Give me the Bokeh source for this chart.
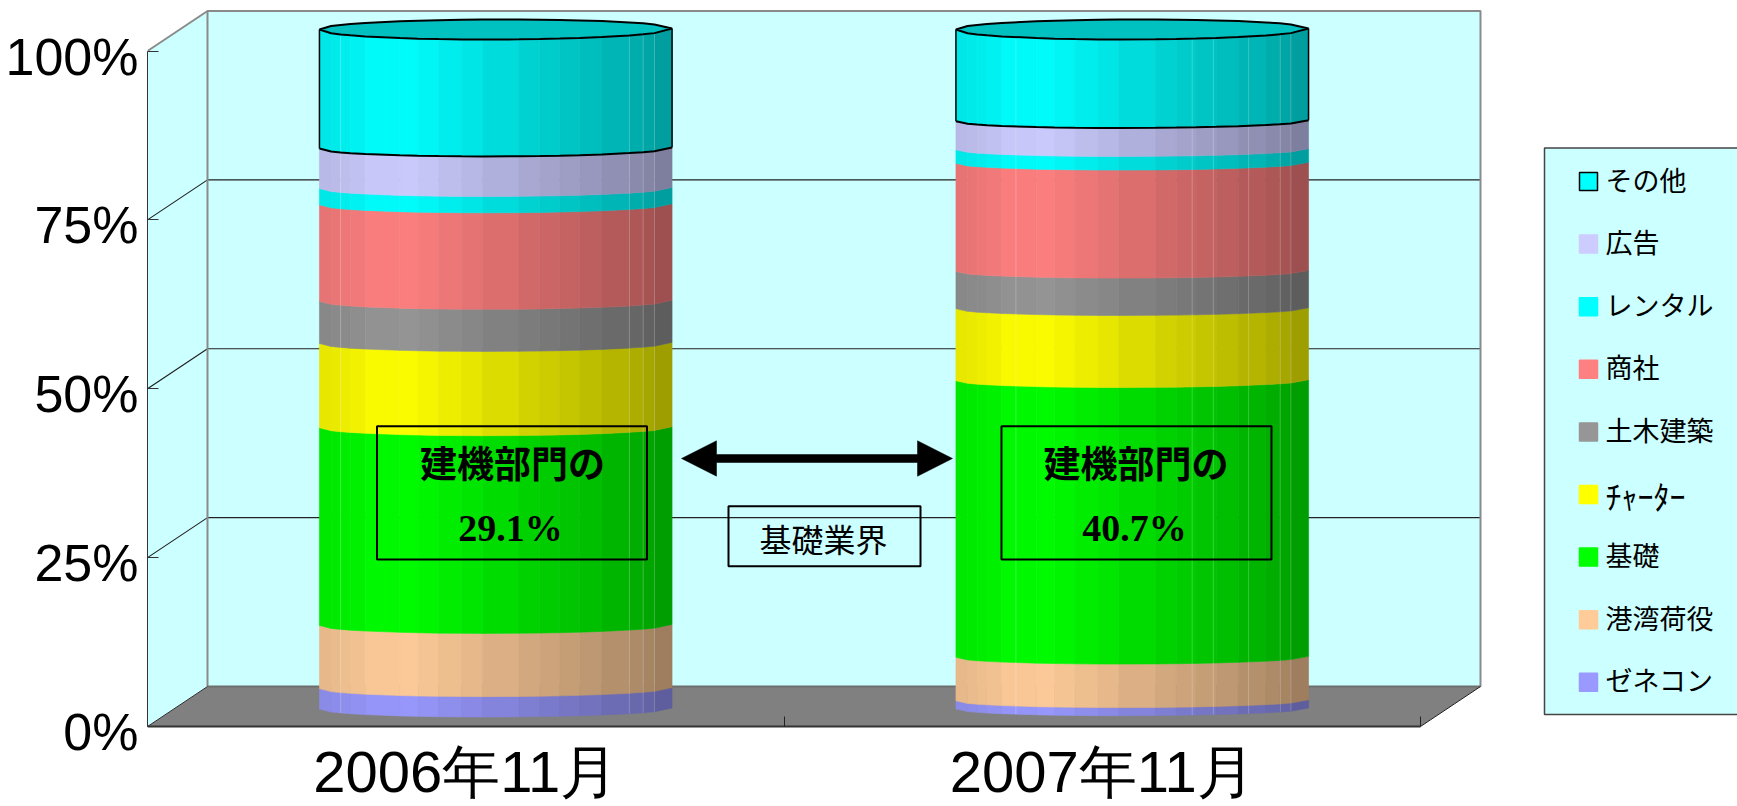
import numpy as np
from bokeh.core.properties import value
from bokeh.embed import file_html
from bokeh.models import ColumnDataSource, FixedTicker, LinearAxis, Range1d
from bokeh.plotting import figure
from bokeh.resources import INLINE

# Share of each sector, bottom of the stack first (percent)
categories = ["2006年11月", "2007年11月"]
sectors = ["ゼネコン", "港湾荷役", "基礎", "ﾁｬｰﾀｰ", "土木建築", "商社", "レンタル", "広告", "その他"]
sector_colors = ["#9999FF", "#FFCC99", "#00FF00", "#FFFF00", "#969696", "#FF8080", "#00FFFF", "#CCCCFF", "#00FFFF"]
share_2006 = [3.0, 9.3, 29.1, 12.4, 6.2, 14.2, 2.4, 5.9, 17.5]
share_2007 = [1.2, 6.4, 40.7, 10.6, 5.5, 15.9, 2.0, 4.2, 13.5]
foundation_labels = ["29.1%", "40.7%"]
y_ticks = [0, 25, 50, 75, 100]

# Pixel geometry of the plot frame and its 3-D box
LEFT, BASE = 147, 726
PX_X, PX_Y = 636.5, 6.755
FRAME_W, FRAME_H = 1590, 806


def dx(px):
    return (px - LEFT) / PX_X


def dy(px):
    return (BASE - px) / PX_Y


Y_START, Y_END = dy(FRAME_H), dy(0)
p = figure(width=1737, height=806, frame_width=FRAME_W, frame_height=FRAME_H,
           x_range=Range1d(0, FRAME_W / PX_X), y_range=Range1d(Y_START, Y_END),
           output_backend="svg", toolbar_location=None,
           min_border_left=LEFT, min_border_right=0, min_border_top=0, min_border_bottom=0,
           background_fill_color="white", border_fill_color="white", outline_line_color=None)
p.grid.visible = False

# Value axis: the tick marks stay on the axis line, while the percent labels sit on a
# second axis whose range is offset a few pixels so they hang just below their ticks
AXIS_FONT = "Liberation Sans"
LABEL_DROP = 5.5 / PX_Y
yax = p.yaxis[0]
yax.ticker = FixedTicker(ticks=[], minor_ticks=y_ticks)
yax.bounds = (0, 100)
yax.major_tick_in, yax.major_tick_out = 0, 0
yax.minor_tick_in, yax.minor_tick_out = 11, 0
yax.minor_tick_line_color = "#333333"
yax.axis_line_color = "#333333"

p.extra_y_ranges["percent_labels"] = Range1d(Y_START + LABEL_DROP, Y_END + LABEL_DROP)
label_axis = LinearAxis(y_range_name="percent_labels", ticker=FixedTicker(ticks=y_ticks),
                        major_label_overrides={t: f"{t}%" for t in y_ticks},
                        major_label_text_font=AXIS_FONT, major_label_text_font_size="52px",
                        major_label_text_color="black", major_label_standoff=9,
                        major_tick_in=0, major_tick_out=0, minor_tick_in=0, minor_tick_out=0,
                        axis_line_color=None, major_tick_line_color=None, minor_tick_line_color=None)
p.add_layout(label_axis, "left")

# Category axis drawn on the floor's front edge
xax = p.xaxis[0]
xax.fixed_location = 0
xax.ticker = FixedTicker(ticks=[0.5, 1.5], minor_ticks=[0, 1, 2])
xax.major_label_overrides = {0.5: categories[0], 1.5: categories[1]}
xax.bounds = (0, 2)
xax.major_label_text_font = AXIS_FONT
xax.major_label_text_font_size = "58px"
xax.major_label_text_color = "black"
xax.major_label_standoff = 6
xax.major_tick_line_color = None
xax.minor_tick_in, xax.minor_tick_out = 10, 0
xax.minor_tick_line_color = "#222222"
xax.axis_line_color = "#333333"
xax.axis_line_width = 2

# Walls and floor of the box
WALL = "#CCFFFF"
DEPTH_X, DEPTH_Y = 60 / PX_X, 40 / PX_Y
top = 100.0
p.patch([0, DEPTH_X, DEPTH_X, 0], [0, DEPTH_Y, top + DEPTH_Y, top], fill_color=WALL, line_color=None)
p.patch([DEPTH_X, 2 + DEPTH_X, 2 + DEPTH_X, DEPTH_X], [DEPTH_Y, DEPTH_Y, top + DEPTH_Y, top + DEPTH_Y],
        fill_color=WALL, line_color=None)
p.patch([0, DEPTH_X, 2 + DEPTH_X, 2], [0, DEPTH_Y, DEPTH_Y, 0], fill_color="#808080", line_color=None)

for t in y_ticks[1:-1]:
    p.line([0, DEPTH_X, 2 + DEPTH_X], [t, t + DEPTH_Y, t + DEPTH_Y], line_color="#222222", line_width=1.2)
p.line([0, DEPTH_X, 2 + DEPTH_X, 2 + DEPTH_X], [top, top + DEPTH_Y, top + DEPTH_Y, DEPTH_Y],
       line_color="#8A8A8A", line_width=2)
p.line([DEPTH_X, DEPTH_X], [top + DEPTH_Y, DEPTH_Y], line_color="#8A8A8A", line_width=2)
p.line([DEPTH_X, 2 + DEPTH_X], [DEPTH_Y, DEPTH_Y], line_color="#6E6E6E", line_width=2)
p.line([2, 2 + DEPTH_X], [0, DEPTH_Y], line_color="#222222", line_width=1)
p.line([0, DEPTH_X], [0, DEPTH_Y], line_color="#333333", line_width=1)

# Faceted cylinders: facet edges across the width, with the light falling from the left
FACETS = np.array([0, .033, .06, .088, .13, .228, .28, .338, .403, .462, .566,
                   .625, .681, .738, .801, .879, .918, .95, 1.0])
SHADE_AT = [0, .228, .5, .7, .9, 1.0]
SHADE = [.90, 1.0, .87, .78, .68, .60]
CYL_HALF_W = 176.3 / PX_X
CYL_BASE = (BASE - 708.5) / PX_Y
CYL_SCALE = 6.795 / PX_Y
LID_RIM = 10.5 / PX_Y
TILT = 1.0 / PX_Y


def shaded(color, f):
    k = np.interp(f, SHADE_AT, SHADE)
    r, g, b = (int(color[i:i + 2], 16) for i in (1, 3, 5))
    return "#%02X%02X%02X" % (int(r * k), int(g * k), int(b * k))


def rim(f, level, depth, sign=-1):
    """Height of a rim at width fraction f: front curve for sign -1, back curve for sign +1."""
    t = 2 * np.asarray(f) - 1
    return CYL_BASE + CYL_SCALE * level + sign * depth * np.sqrt(np.clip(1 - t * t, 0, 1)) + TILT * np.asarray(f)


def draw_cylinder(center, shares, seams, band_rim_px):
    band_rim = band_rim_px / PX_Y
    x0 = center - CYL_HALF_W
    width = 2 * CYL_HALF_W
    xs = x0 + FACETS * width
    levels = np.concatenate([[0], np.cumsum(shares)])
    levels[-1] = 100.0
    xp, yp, colors = [], [], []
    for lo, hi, col in zip(levels[:-1], levels[1:], sector_colors):
        hi_rim = LID_RIM if hi == 100.0 else band_rim
        for j in range(len(FACETS) - 1):
            f0, f1 = FACETS[j], FACETS[j + 1]
            xp.append([xs[j], xs[j + 1], xs[j + 1], xs[j]])
            yp.append([rim(f0, lo, band_rim), rim(f1, lo, band_rim), rim(f1, hi, hi_rim), rim(f0, hi, hi_rim)])
            colors.append(shaded(col, (f0 + f1) / 2))
    p.patches(xp, yp, fill_color=colors, line_color=colors, line_width=0.6)

    # faint seams between some facets
    for s in seams:
        p.line([x0 + s * width] * 2, [rim(s, levels[0], band_rim), rim(s, 100, LID_RIM)], line_color="white",
               line_alpha=0.22, line_width=1)

    # outlined top section and lid
    lower = levels[-2]
    p.line(list(xs), list(rim(FACETS, lower, band_rim)), line_color="black", line_width=2)
    p.line([xs[0], xs[0]], [rim(0, lower, band_rim), rim(0, 100, LID_RIM)], line_color="black", line_width=1.5)
    p.line([xs[-1], xs[-1]], [rim(1, lower, band_rim), rim(1, 100, LID_RIM)], line_color="black", line_width=1.5)
    lid_x = list(xs) + list(xs[::-1])
    lid_y = list(rim(FACETS, 100, LID_RIM)) + list(rim(FACETS[::-1], 100, 9.5 / PX_Y, sign=1))
    p.patch(lid_x, lid_y, fill_color="#00C0C0", line_color="black", line_width=2)


CENTERS = [0.5 + DEPTH_X / 2, 1.5 + DEPTH_X / 2]
draw_cylinder(CENTERS[0], share_2006, [.06, .879, .918, .95], 8.5)
draw_cylinder(CENTERS[1], share_2007, [.17, .67, .73, .83, .92, .95], 7.2)

# Callout boxes over the foundation sections
CJK = "Noto Sans CJK JP"
box_edges = [(376.5, 646.5), (1001, 1271)]
head_centers = [512, 1135.5]
value_centers = [510, 1134]
for (bx0, bx1), hx, vx, label in zip(box_edges, head_centers, value_centers, foundation_labels):
    p.quad(left=[dx(bx0)], right=[dx(bx1)], top=[dy(425.7)], bottom=[dy(559)],
           fill_color=None, line_color="black", line_width=2)
    p.text([dx(hx)], [dy(461)], text=["建機部門の"], text_font=value(CJK), text_font_style="bold",
           text_font_size="37px", text_align="center", text_baseline="middle", text_color="black")
    p.text([dx(vx)], [dy(527)], text=[label], text_font=value("Liberation Serif"), text_font_style="bold",
           text_font_size="38px", text_align="center", text_baseline="middle", text_color="black")

# Double-headed arrow and its caption
ay = 458
p.patch([dx(v) for v in (681, 716, 716, 917, 917, 952, 917, 917, 716, 716)],
        [dy(v) for v in (ay, ay - 17.7, ay - 4, ay - 4, ay - 17.7, ay, ay + 17.7, ay + 4, ay + 4, ay + 17.7)],
        fill_color="black", line_color="black", line_width=0.5)
p.quad(left=[dx(728)], right=[dx(920)], top=[dy(505.7)], bottom=[dy(565.7)],
       fill_color=None, line_color="black", line_width=2)
p.text([dx(823)], [dy(537)], text=["基礎業界"], text_font=value(CJK), text_font_size="32px",
       text_align="center", text_baseline="middle", text_color="black")

# Legend panel, top entry first
p.quad(left=[dx(1544)], right=[dx(1800)], top=[dy(147.5)], bottom=[dy(714)],
       fill_color=WALL, line_color="#444444", line_width=1.5)
entries = list(zip(sectors, sector_colors))[::-1]
row_px = [181 + 62.6 * i for i in range(len(entries))]
legend = ColumnDataSource(dict(
    left=[dx(1579)] * len(entries), right=[dx(1597)] * len(entries),
    top=[dy(r - 9) for r in row_px], bottom=[dy(r + 9) for r in row_px],
    color=[c for _, c in entries], line=["black"] + [c for _, c in entries[1:]],
    tx=[dx(1605)] * len(entries),
    ty=[dy(r if n == "ﾁｬｰﾀｰ" else r - 2.5) for r, (n, _) in zip(row_px, entries)],
    name=[n for n, _ in entries],
    size=["32px" if n == "ﾁｬｰﾀｰ" else "27px" for n, _ in entries]))
p.quad(left="left", right="right", top="top", bottom="bottom", fill_color="color", line_color="line",
       line_width=1.5, source=legend)
p.text(x="tx", y="ty", text="name", text_font=value(CJK), text_font_size="size", text_align="left",
       text_baseline="middle", text_color="black", source=legend)

open("out.html", "w").write(file_html(p, INLINE))
